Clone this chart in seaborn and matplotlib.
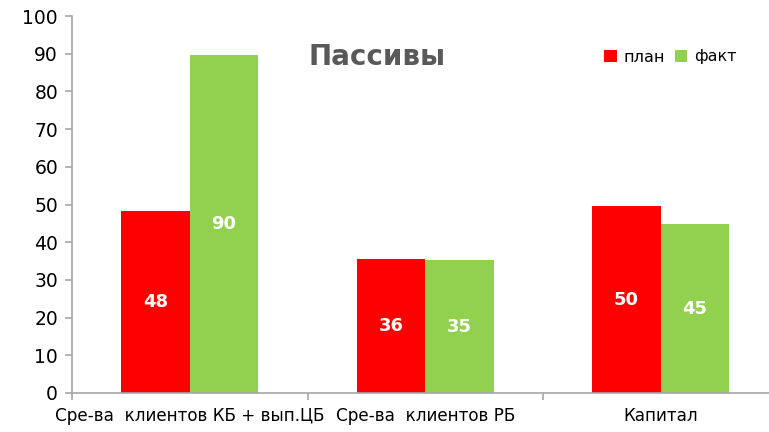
import seaborn as sns
import pandas as pd
import matplotlib.pyplot as plt
import numpy as np
from matplotlib.patches import Patch

categories = ['Сре-ва  клиентов КБ + вып.ЦБ', 'Сре-ва  клиентов РБ', 'Капитал']
plan = [48.4, 35.6, 49.6]
fact = [89.6, 35.2, 44.8]
series_names = ['план', 'факт']
colors = ['#FF0000', '#92D050']
y_ticks = list(range(0, 101, 10))

df = pd.DataFrame({'Категория': categories, 'план': plan, 'факт': fact})
df = df.melt(id_vars='Категория', var_name='Серия', value_name='Значение')

sns.set_style('white')
plt.rcParams['font.family'] = ['DejaVu Sans']

fig = plt.figure(figsize=(7.69, 4.32), dpi=100)
ax = fig.add_axes([72 / 769, 39 / 432, 706.5 / 769, 377 / 432])

sns.barplot(data=df, x='Категория', y='Значение', hue='Серия', hue_order=series_names,
            palette=colors, width=0.58, linewidth=0, saturation=1, ax=ax, legend=False)

for container in ax.containers:
    for bar in container:
        h = bar.get_height()
        ax.text(bar.get_x() + bar.get_width() / 2, h / 2, f'{h:.0f}',
                ha='center', va='center', color='white', fontsize=13, fontweight='bold')

ax.set_xlim(-0.5, 2.5)
ax.set_ylim(0, 100)
ax.set_yticks(y_ticks)
ax.set_xlabel('')
ax.set_ylabel('')

for side in ['top', 'right']:
    ax.spines[side].set_visible(False)
for side in ['left', 'bottom']:
    ax.spines[side].set_color('#A6A6A6')
    ax.spines[side].set_linewidth(1.2)

ax.tick_params(axis='y', length=5, color='#A6A6A6', width=1.2, labelsize=13.5,
               labelcolor='black', pad=5, left=True)
ax.tick_params(axis='x', which='major', length=0, labelsize=12.1, labelcolor='black', pad=10)
ax.set_xticks(np.arange(-0.5, 2.6, 1), minor=True)
ax.tick_params(axis='x', which='minor', length=5, color='#A6A6A6', width=1.2, bottom=True)

fig.text(377 / 769, 1 - 57 / 432, 'Пассивы', ha='center', va='center',
         fontsize=20, fontweight='bold', color='#595959')

handles = [Patch(facecolor=c, edgecolor='none') for c in colors]
fig.legend(handles, series_names, loc='center left', bbox_to_anchor=(590 / 769, 1 - 57 / 432),
           ncol=2, frameon=False, fontsize=11.5, labelcolor='black', handlelength=0.8,
           handleheight=0.8, handletextpad=0.4, columnspacing=0.6)

fig.savefig('out.png', dpi=100)
